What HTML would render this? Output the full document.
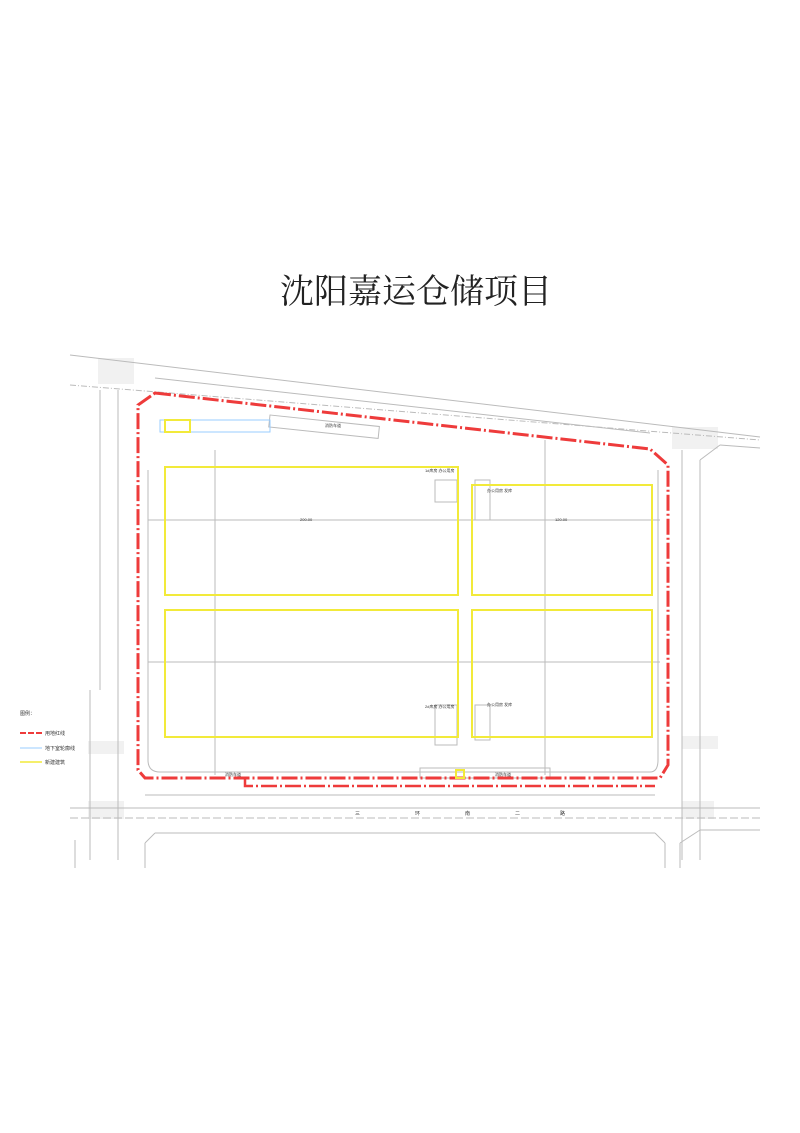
<!DOCTYPE html>
<html><head><meta charset="utf-8"><style>
html,body{margin:0;padding:0;background:#fff;}
.t{position:absolute;left:0;top:264px;width:832px;text-align:center;font-family:"Liberation Serif","Noto Serif CJK SC",serif;font-size:34px;color:#222;}
</style></head><body>
<div style="position:relative;width:800px;height:1133px;overflow:hidden">
<div class="t">沈阳嘉运仓储项目</div>
<svg width="800" height="1133" style="position:absolute;left:0;top:0" font-family="Liberation Sans, Noto Sans CJK SC, sans-serif">
<g fill="#f1f1f1"><rect x="98" y="358" width="36" height="26"/><rect x="672" y="427" width="46" height="22"/><rect x="88" y="741" width="36" height="13"/><rect x="682" y="736" width="36" height="13"/><rect x="88" y="801" width="36" height="18"/><rect x="682" y="801" width="32" height="18"/></g>
<g stroke="#bbb" stroke-width="1" fill="none">
<line x1="70" y1="355" x2="760" y2="437"/>
<line x1="70" y1="385" x2="760" y2="440" stroke-dasharray="6 2 1 2"/>
<line x1="155" y1="378" x2="650" y2="433"/>
<line x1="100" y1="390" x2="100" y2="690"/>
<line x1="118" y1="390" x2="118" y2="860"/>
<line x1="90" y1="690" x2="90" y2="860"/>
<line x1="682" y1="450" x2="682" y2="860"/>
<line x1="700" y1="460" x2="700" y2="860"/>
<line x1="700" y1="460" x2="720" y2="445"/><line x1="720" y1="445" x2="760" y2="448"/>
<line x1="70" y1="808" x2="760" y2="808"/>
<line x1="70" y1="818" x2="760" y2="818" stroke-dasharray="8 3"/>
<line x1="145" y1="843" x2="145" y2="868"/><line x1="145" y1="843" x2="155" y2="833"/>
<line x1="155" y1="833" x2="655" y2="833"/><line x1="655" y1="833" x2="665" y2="843"/><line x1="665" y1="843" x2="665" y2="868"/>
<line x1="680" y1="868" x2="680" y2="843"/><line x1="680" y1="843" x2="700" y2="830"/><line x1="700" y1="830" x2="760" y2="830"/>
<line x1="75" y1="868" x2="75" y2="840"/>
<path d="M148 470 V760 Q148 772 160 772 H650 Q658 772 658 760 V470"/>
<line x1="148" y1="520" x2="660" y2="520"/>
<line x1="148" y1="662" x2="660" y2="662"/>
<line x1="215" y1="450" x2="215" y2="775"/>
<line x1="545" y1="440" x2="545" y2="775"/>
<line x1="145" y1="795" x2="655" y2="795"/>
<rect x="270" y="415" width="110" height="12" transform="rotate(6 270 415)"/>
<rect x="160" y="420" width="110" height="12" stroke="#9cf"/>
<rect x="435" y="480" width="22" height="22"/><rect x="475" y="480" width="15" height="40"/>
<rect x="435" y="705" width="22" height="40"/><rect x="475" y="705" width="15" height="35"/>
<rect x="420" y="768" width="130" height="10"/>
</g>
<g stroke="#ee3b3b" stroke-width="3" fill="none" stroke-dasharray="16 3 2 3">
<path d="M155 393 L650 449 L668 465 L668 765 L660 778 L145 778 L138 770 L138 405 Z"/>
<path d="M245 778 V786 H655" stroke-width="2.5"/>
</g>
<g stroke="#f2ea3a" stroke-width="2" fill="none">
<rect x="165" y="467" width="293" height="128"/>
<rect x="472" y="485" width="180" height="110"/>
<rect x="165" y="610" width="293" height="127"/>
<rect x="472" y="610" width="180" height="127"/>
<rect x="165" y="420" width="25" height="12"/>
<rect x="456" y="770" width="8" height="8"/>
</g>
<g font-size="4" fill="#333">
<text x="300" y="521">200.00</text><text x="555" y="521">120.00</text>
<text x="425" y="472">1#库房 办公用房</text><text x="487" y="492">办公用房 发库</text>
<text x="425" y="708">2#库房 办公用房</text><text x="487" y="706">办公用房 发库</text>
<text x="225" y="776">消防车道</text><text x="495" y="776">消防车道</text>
<text x="325" y="427">消防车道</text>
</g>
<g font-size="5" fill="#333">
<text x="20" y="715">图例：</text>
<line x1="20" y1="733" x2="42" y2="733" stroke="#ee3b3b" stroke-width="2" stroke-dasharray="6 2"/><text x="45" y="735">用地红线</text>
<line x1="20" y1="748" x2="42" y2="748" stroke="#9cf"/><text x="45" y="750">地下室轮廓线</text>
<line x1="20" y1="762" x2="42" y2="762" stroke="#f2ea3a" stroke-width="1.5"/><text x="45" y="764">新建建筑</text>
<text x="355" y="815">三</text><text x="415" y="815">环</text><text x="465" y="815">南</text><text x="515" y="815">二</text><text x="560" y="815">路</text>
</g>
</svg>
</div>
</body></html>
